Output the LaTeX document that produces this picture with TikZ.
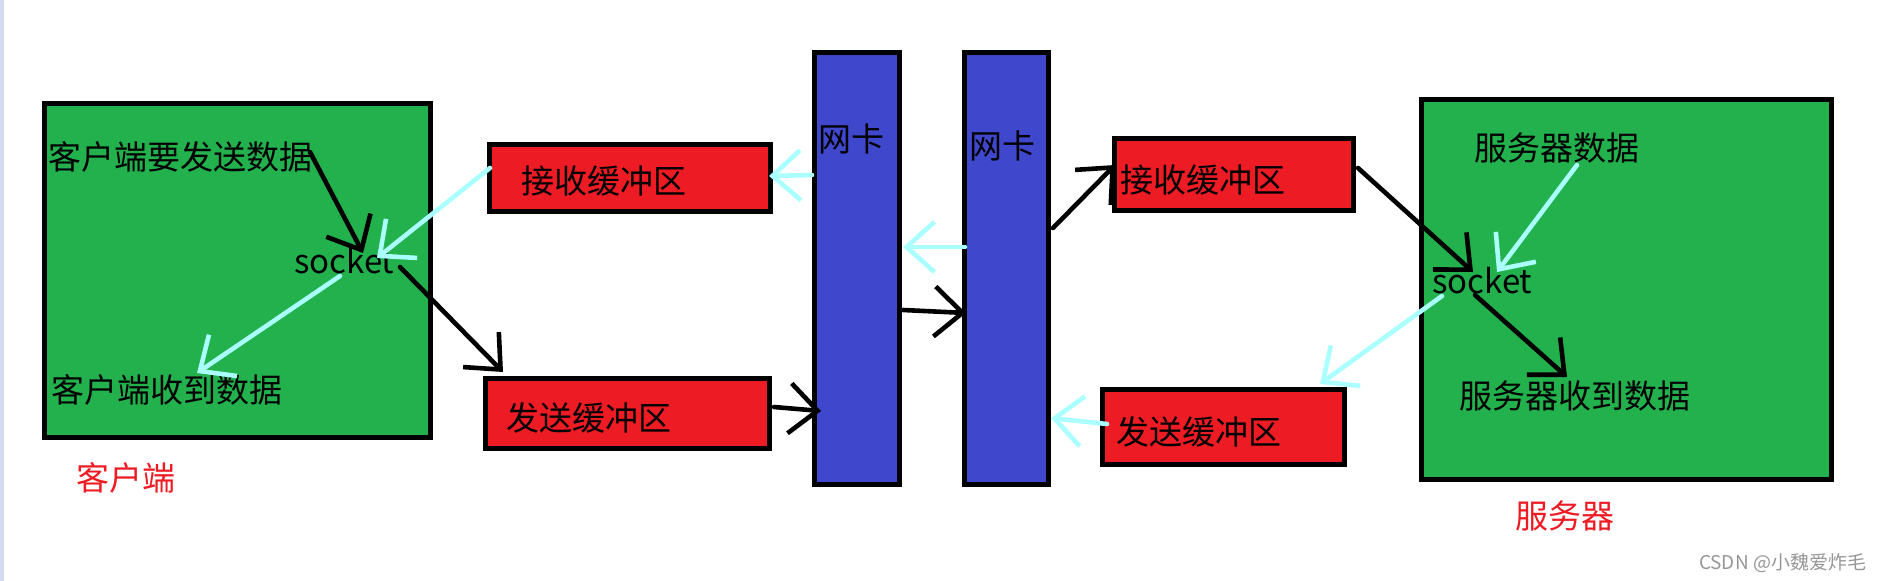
\documentclass[tikz,border=0pt]{standalone}
\usepackage{fontspec}
\setmainfont{Noto Sans CJK SC}
\usetikzlibrary{arrows.meta}
\definecolor{pgreen}{RGB}{34,177,76}
\definecolor{pred}{RGB}{237,28,36}
\definecolor{pblue}{RGB}{63,72,204}
\definecolor{pcyan}{RGB}{170,255,255}
\definecolor{stripc}{RGB}{212,220,236}
\definecolor{wmgray}{RGB}{150,150,150}
\begin{document}
\begin{tikzpicture}[x=1pt,y=-1pt,
  box/.style={draw=black,line width=4.6pt,inner sep=0pt,outer sep=0pt},
  greenbox/.style={box,fill=pgreen},
  bufbox/.style={box,fill=pred},
  nicbox/.style={box,fill=pblue},
  lbl/.style={inner sep=0pt,anchor=base west,font=\fontsize{33}{40}\selectfont},
  redlbl/.style={lbl,text=pred},
  blk/.style={draw=black,line width=4.6pt,line cap=round,-{Straight Barb[length=28pt,width=50pt]}},
  cyn/.style={blk,draw=pcyan},
]
\useasboundingbox (0,0) rectangle (1883,581);
\fill[stripc] (0,0) rectangle (3.5,581);

% boxes
\node[greenbox,minimum width=386.4pt,minimum height=334.4pt] (client) at (237.5,270.5) {};
\node[greenbox,minimum width=410.4pt,minimum height=380.4pt] (server) at (1626.5,289.5) {};
\node[bufbox,minimum width=281.4pt,minimum height=67.4pt] (rbl) at (630,178) {};
\node[bufbox,minimum width=284.4pt,minimum height=70.4pt] (sbl) at (627.5,413.5) {};
\node[bufbox,minimum width=239.4pt,minimum height=72.4pt] (rbr) at (1234,174.5) {};
\node[bufbox,minimum width=242.4pt,minimum height=75.4pt] (sbr) at (1223.5,427) {};
\node[nicbox,minimum width=85.4pt,minimum height=432.4pt] (nic1) at (857,268.5) {};
\node[nicbox,minimum width=84.4pt,minimum height=432.4pt] (nic2) at (1006.5,268.5) {};

% texts
\node[lbl] (csend) at (48.5,169.5) {客户端要发送数据};
\node[lbl] (csock) at (294,273) {socket};
\node[lbl] (crecv) at (51.5,402.5) {客户端收到数据};
\node[lbl] (trbl) at (521.5,193.5) {接收缓冲区};
\node[lbl] (tsbl) at (506.5,430.5) {发送缓冲区};
\node[lbl] (tnic1) at (818.5,151.5) {网卡};
\node[lbl] (tnic2) at (969.5,158.5) {网卡};
\node[lbl] (trbr) at (1120.5,192.5) {接收缓冲区};
\node[lbl] (tsbr) at (1116.5,444.5) {发送缓冲区};
\node[lbl] (sdata) at (1474.5,160.5) {服务器数据};
\node[lbl] (ssock) at (1432,293) {socket};
\node[lbl] (srecv) at (1459.5,408.5) {服务器收到数据};
\node[redlbl] (lclient) at (76.5,490.5) {客户端};
\node[redlbl] (lserver) at (1515.5,528.5) {服务器};
\node[inner sep=0pt,text=wmgray,font=\fontsize{19}{22}\selectfont] (wm) at (1782.5,563) {CSDN @小魏爱炸毛};

% arrow end points
\coordinate (a1s) at (310,152);  \coordinate (a1e) at (363,253);
\coordinate (a2s) at (490,168);  \coordinate (a2e) at (377,258);
\coordinate (a3s) at (340,276);  \coordinate (a3e) at (197,373);
\coordinate (a4s) at (400,267);  \coordinate (a4e) at (503,372);
\coordinate (a5s) at (774,407);  \coordinate (a5e) at (821,411);
\coordinate (a6s) at (903,310);  \coordinate (a6e) at (966,313);
\coordinate (a7s) at (965,247);  \coordinate (a7e) at (903,247);
\coordinate (a8s) at (812,175);  \coordinate (a8e) at (769,176);
\coordinate (a9s) at (1053,228); \coordinate (a9e) at (1115,165);
\coordinate (a10s) at (1358,168); \coordinate (a10e) at (1473,272);
\coordinate (a11s) at (1577,165); \coordinate (a11e) at (1497,272);
\coordinate (a12s) at (1475,295); \coordinate (a12e) at (1567,377);
\coordinate (a13s) at (1442,296); \coordinate (a13e) at (1320,384);
\coordinate (a14s) at (1107,424); \coordinate (a14e) at (1051,418);

% connectors
\draw[blk] (a1s) -- (a1e);
\draw[cyn] (a2s) -- (a2e);
\draw[cyn] (a3s) -- (a3e);
\draw[blk] (a4s) -- (a4e);
\draw[blk] (a5s) -- (a5e);
\draw[blk] (a6s) -- (a6e);
\draw[cyn] (a7s) -- (a7e);
\draw[cyn] (a8s) -- (a8e);
\draw[blk] (a9s) -- (a9e);
\draw[blk] (a10s) -- (a10e);
\draw[cyn] (a11s) -- (a11e);
\draw[blk] (a12s) -- (a12e);
\draw[cyn] (a13s) -- (a13e);
\draw[cyn] (a14s) -- (a14e);
\end{tikzpicture}
\end{document}
